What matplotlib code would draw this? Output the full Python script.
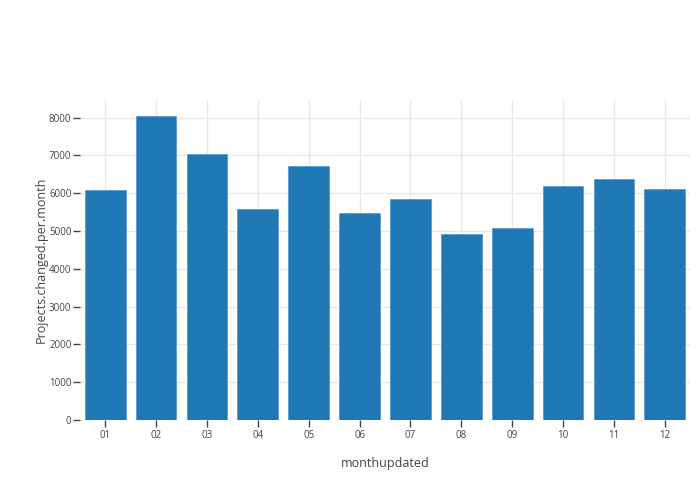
import matplotlib
matplotlib.use("Agg")
import matplotlib.pyplot as plt

months = ["01", "02", "03", "04", "05", "06", "07", "08", "09", "10", "11", "12"]
projects_changed = [6085, 8042, 7029, 5582, 6720, 5484, 5838, 4912, 5079, 6190, 6376, 6111]
y_ticks = [0, 1000, 2000, 3000, 4000, 5000, 6000, 7000, 8000]

plt.rcParams['font.family'] = ['Open Sans', 'DejaVu Sans']

fig = plt.figure(figsize=(7, 5), dpi=100)
ax = fig.add_axes([0.114, 0.16, 0.872, 0.64])

x = list(range(len(months)))
ax.bar(x, projects_changed, width=0.8, color='#1f77b4', edgecolor='#5b9bd0', linewidth=0.6, zorder=3)

ax.set_xlim(-0.5, len(months) - 0.5)
ax.set_ylim(0, 8466)
ax.set_xticks(x)
ax.set_xticklabels(months)
ax.set_yticks(y_ticks)
ax.set_yticklabels([str(v) for v in y_ticks])

ax.grid(True, color='#e8e8e8', linewidth=1, zorder=0)
for s in ax.spines.values():
    s.set_visible(False)

ax.tick_params(axis='both', labelsize=7, colors='#444444', length=5, width=1, pad=2)
ax.tick_params(axis='y', pad=1)

ax.set_xlabel('monthupdated', fontsize=9, color='#444444', labelpad=12)
ax.set_ylabel('Projects.changed.per.month', fontsize=9, color='#444444', labelpad=1)

fig.savefig('out.png', dpi=100)
